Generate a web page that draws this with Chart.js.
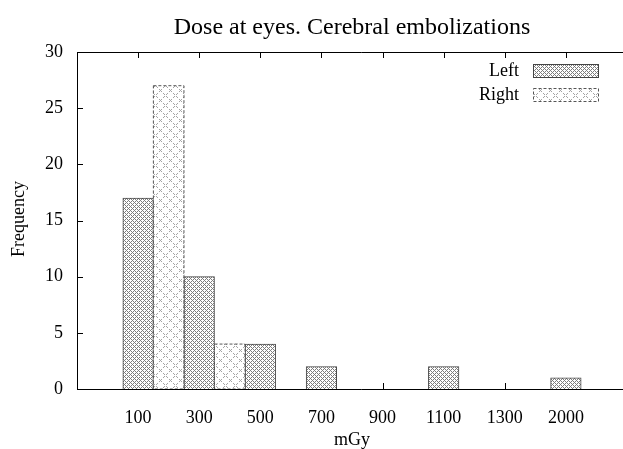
<!DOCTYPE html>
<html>
<head>
<meta charset="utf-8">
<script src="https://cdn.jsdelivr.net/npm/chart.js@4.4.0/dist/chart.umd.min.js"></script>
<style>
  html, body { margin: 0; padding: 0; background: #fff; overflow: hidden; }
  #wrap { width: 645px; height: 449px; }
</style>
</head>
<body>
<div id="wrap"><canvas id="chart"></canvas></div>
<script>
const categories = ["100", "300", "500", "700", "900", "1100", "1300", "2000"];
const leftCounts = [17, 10, 4, 2, 0, 2, 0, 1];
const rightCounts = [27, 4, 0, 0, 0, 0, 0, 0];
const seriesNames = ["Left", "Right"];
const titleText = "Dose at eyes. Cerebral embolizations";
const xTitle = "mGy";
const yTitle = "Frequency";

const serif = "'Liberation Serif', 'DejaVu Serif', serif";
Chart.defaults.font.family = serif;
Chart.defaults.font.size = 18;
Chart.defaults.color = "#000";

// crosshatch tiles drawn pixel by pixel, gnuplot style
function hatch(size, rgb, skip) {
  const c = document.createElement("canvas");
  c.width = size; c.height = size;
  const g = c.getContext("2d");
  g.fillStyle = "#fff";
  g.fillRect(0, 0, size, size);
  const img = g.getImageData(0, 0, size, size);
  for (let y = 0; y < size; y++) {
    for (let x = 0; x < size; x++) {
      const onLine = (x - y + size) % size === 0 || (x + y) % size === 0;
      if (!onLine) continue;
      if (skip && (x % skip === skip - 1)) continue;
      const k = (y * size + x) * 4;
      img.data[k] = rgb[0]; img.data[k + 1] = rgb[1]; img.data[k + 2] = rgb[2];
    }
  }
  g.putImageData(img, 0, 0);
  return g.createPattern(c, "repeat");
}

const leftFill = hatch(4, [125, 125, 125], 0);
const rightFill = hatch(10, [165, 165, 165], 3);

const TICK = 6;

const framePlugin = {
  id: "frame",
  beforeDatasetsDraw(chart) {
    const { ctx, chartArea: a, scales } = chart;
    ctx.save();
    ctx.strokeStyle = "#000";
    ctx.lineWidth = 1;
    ctx.beginPath();
    categories.forEach((c, i) => {
      const x = Math.round(scales.x.getPixelForValue(i)) + 0.5;
      ctx.moveTo(x, a.bottom); ctx.lineTo(x, a.bottom - TICK);
      ctx.moveTo(x, a.top); ctx.lineTo(x, a.top + TICK);
    });
    scales.y.ticks.forEach(t => {
      const y = Math.round(scales.y.getPixelForValue(t.value)) + 0.5;
      ctx.moveTo(a.left, y); ctx.lineTo(a.left + TICK, y);
    });
    ctx.stroke();
    ctx.restore();
  },
  afterDatasetsDraw(chart) {
    const { ctx, chartArea: a } = chart;
    ctx.save();
    // dashed outline for the Right bars
    const meta = chart.getDatasetMeta(1);
    ctx.strokeStyle = "#555";
    ctx.lineWidth = 1;
    ctx.setLineDash([3, 2]);
    meta.data.forEach((bar, i) => {
      if (!rightCounts[i]) return;
      const p = bar.getProps(["x", "y", "base", "width"], true);
      ctx.strokeRect(p.x - p.width / 2, p.y, p.width, p.base - p.y);
    });
    ctx.setLineDash([]);
    ctx.strokeStyle = "#000";
    ctx.beginPath();
    const l = Math.round(a.left) + 0.5, t = Math.round(a.top) + 0.5, b = Math.round(a.bottom) + 0.5;
    ctx.moveTo(a.right + 20, t); ctx.lineTo(l, t); ctx.lineTo(l, b); ctx.lineTo(a.right + 20, b);
    ctx.stroke();
    ctx.restore();
  },
  afterDraw(chart) {
    const { ctx, chartArea: a } = chart;
    ctx.save();
    ctx.fillStyle = "#000";
    ctx.textAlign = "center";
    ctx.textBaseline = "alphabetic";
    ctx.font = "24px " + serif;
    ctx.fillText(titleText, (a.left + a.right) / 2, 34);
    ctx.font = "18px " + serif;
    ctx.textBaseline = "middle";
    ctx.fillText(xTitle, (a.left + a.right) / 2, 440);
    ctx.translate(19, 219);
    ctx.rotate(-Math.PI / 2);
    ctx.fillText(yTitle, 0, 0);
    ctx.restore();

    // key
    ctx.save();
    ctx.font = "18px " + serif;
    ctx.textAlign = "right";
    ctx.textBaseline = "middle";
    chart.data.datasets.forEach((ds, i) => {
      const cy = 71 + i * 24;
      ctx.fillStyle = "#000";
      ctx.fillText(ds.label, 519, cy);
      ctx.fillStyle = ds.backgroundColor;
      ctx.fillRect(533, cy - 6, 65, 12);
      ctx.strokeStyle = i === 0 ? "#444" : "#555";
      ctx.setLineDash(i === 0 ? [] : [3, 2]);
      ctx.lineWidth = 1;
      ctx.strokeRect(533.5, cy - 6.5, 65, 13);
    });
    ctx.restore();
  }
};

new Chart(document.getElementById("chart"), {
  type: "bar",
  data: {
    datasets: [
      {
        label: seriesNames[0],
        data: categories.map((c, i) => ({ x: i, y: leftCounts[i] })),
        backgroundColor: leftFill,
        borderColor: "#444",
        borderWidth: 1
      },
      {
        label: seriesNames[1],
        data: categories.map((c, i) => ({ x: i + 0.5, y: rightCounts[i] })),
        backgroundColor: rightFill,
        borderWidth: 0
      }
    ]
  },
  options: {
    responsive: true,
    maintainAspectRatio: false,
    animation: false,
    grouped: false,
    barPercentage: 1,
    categoryPercentage: 1,
    layout: { padding: { left: 0, top: 52, right: 13, bottom: 0 } },
    scales: {
      x: {
        type: "linear",
        min: -1,
        max: 8,
        offset: false,
        grid: { display: false, drawTicks: false },
        border: { display: false },
        ticks: {
          stepSize: 1,
          autoSkip: false,
          maxRotation: 0,
          padding: 18,
          callback: v => categories[v] ?? ""
        },
        afterFit: s => { s.height = 60; }
      },
      y: {
        min: 0,
        max: 30,
        grid: { display: false, drawTicks: false },
        border: { display: false },
        ticks: { stepSize: 5, padding: 14 },
        afterFit: s => { s.width = 77; }
      }
    },
    plugins: {
      legend: { display: false },
      tooltip: { enabled: false }
    }
  },
  plugins: [framePlugin]
});
</script>
</body>
</html>
